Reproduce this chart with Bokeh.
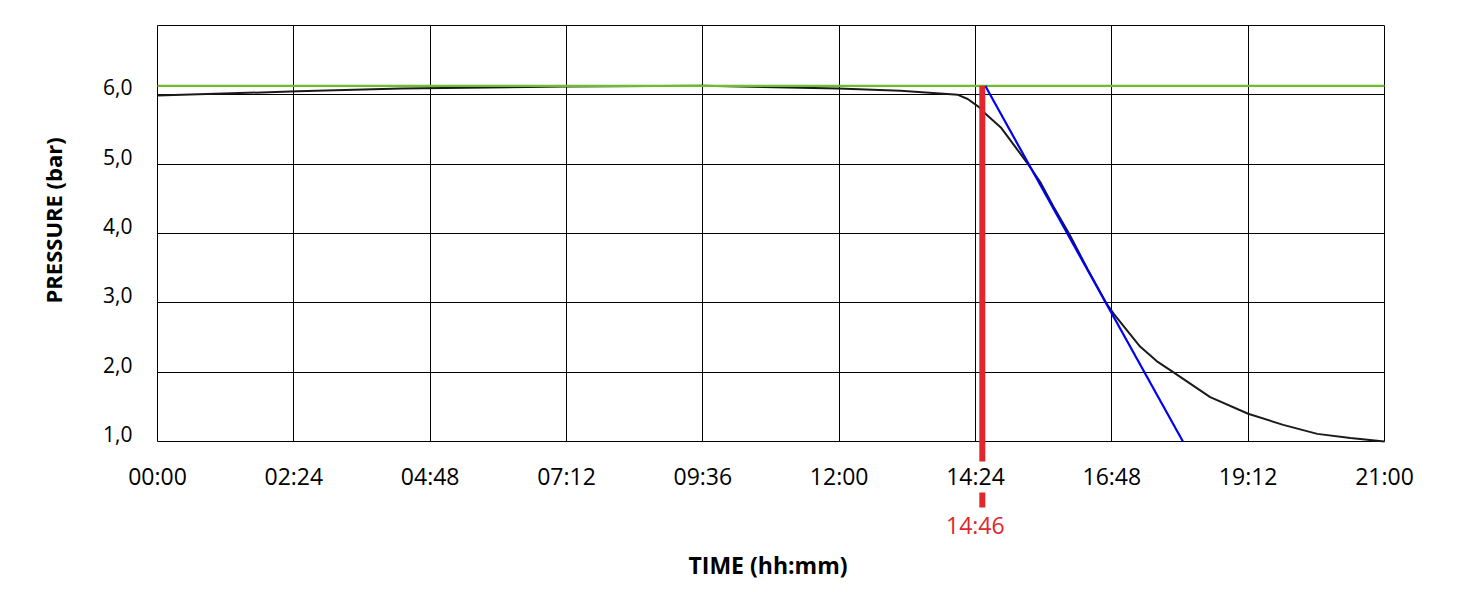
from bokeh.plotting import figure
from bokeh.models import (FixedTicker, Range1d, Label, Title, LinearAxis, Grid)
from bokeh.embed import file_html
from bokeh.resources import INLINE

# ---------------- data (time in minutes from 00:00, pressure in bar) ----------------
time_min = [0, 144, 250, 419, 560, 699, 763, 822, 832, 844, 850, 866, 893, 907,
            920, 936, 955, 974, 982, 1009, 1026, 1043, 1081, 1120, 1156, 1191, 1225, 1260]
pressure = [5.99, 6.05, 6.09, 6.12, 6.13, 6.09, 6.06, 6.00, 5.94, 5.82, 5.73, 5.53,
            5.02, 4.73, 4.39, 4.00, 3.49, 3.00, 2.84, 2.37, 2.16, 2.00, 1.64, 1.40,
            1.24, 1.11, 1.05, 1.00]

reference_level = 6.13                  # green horizontal line (bar)
tangent_time = [850, 1053]              # blue tangent line, minutes
tangent_pressure = [6.13, 1.00]

marker_time = 847                       # red vertical marker position (minutes)
marker_label = "14:46"

# the source chart places its 10 labelled grid lines evenly over 00:00 - 21:00
x_ticks = [0, 140, 280, 420, 560, 700, 840, 980, 1120, 1260]
x_tick_labels = ["00:00", "02:24", "04:48", "07:12", "09:36", "12:00",
                 "14:24", "16:48", "19:12", "21:00"]
y_ticks = [1, 2, 3, 4, 5, 6]
y_tick_labels = ["1,0", "2,0", "3,0", "4,0", "5,0", "6,0"]
y_grid = [1, 2, 3, 4, 5, 6, 7]

x_title = "TIME (hh:mm)"
y_title = "PRESSURE (bar)"

# ---------------- layout (pixels) ----------------
FONT = "Open Sans"
RED = "#e1262d"
W, H = 1440, 592
box_left, box_right, box_top, box_bottom = 157, 1384, 25, 441   # grid box on screen
frame_left, frame_right, frame_top, frame_bottom = 90, 1420, 24, 545

X0, X1 = x_ticks[0], x_ticks[-1]
Y0, Y1 = y_grid[0], y_grid[-1]
ppx = (box_right - box_left) / (X1 - X0)        # px per minute
ppy = (box_bottom - box_top) / (Y1 - Y0)        # px per bar

x_lo = X0 - (box_left - frame_left) / ppx
x_hi = X1 + (frame_right - box_right) / ppx
y_hi = Y1 + (box_top - frame_top) / ppy
y_lo = Y0 - (frame_bottom - box_bottom) / ppy


def below(pixels):
    """data y for a point `pixels` below the bottom of the grid box"""
    return Y0 - pixels / ppy


p = figure(width=W, height=H, output_backend="svg", toolbar_location=None,
           x_range=Range1d(x_lo, x_hi), y_range=Range1d(y_lo, y_hi),
           y_axis_location=None,
           min_border_left=frame_left, min_border_right=W - frame_right,
           min_border_top=frame_top, min_border_bottom=H - frame_bottom)
p.title = None
p.background_fill_color = "white"
p.border_fill_color = "white"
p.outline_line_color = None

# ---- grid box ----
has_cross = "cross_bounds" in Grid.properties()
if has_cross:
    p.xgrid.ticker = FixedTicker(ticks=x_ticks)
    p.ygrid.ticker = FixedTicker(ticks=y_grid)
    p.xgrid.cross_bounds = (Y0, Y1)
    p.ygrid.cross_bounds = (X0, X1)
    for g in (p.xgrid, p.ygrid):
        g.grid_line_color = "black"
        g.grid_line_width = 1
        g.grid_line_alpha = 1.0
else:
    p.xgrid.visible = False
    p.ygrid.visible = False
    p.segment(x0=x_ticks, y0=[Y0] * len(x_ticks), x1=x_ticks, y1=[Y1] * len(x_ticks),
              line_color="black", line_width=1)
    p.segment(x0=[X0] * len(y_grid), y0=y_grid, x1=[X1] * len(y_grid), y1=y_grid,
              line_color="black", line_width=1)

# ---- x axis: drawn along pressure 1,0 ----
xa = p.xaxis[0]
xa.fixed_location = Y0
xa.ticker = FixedTicker(ticks=x_ticks)
xa.major_label_overrides = {t: s for t, s in zip(x_ticks, x_tick_labels)}
xa.axis_line_color = None
xa.major_tick_line_color = None
xa.minor_tick_line_color = None
xa.major_tick_out = 0
xa.major_tick_in = 0
xa.major_label_standoff = 18
xa.major_label_text_font = FONT
xa.major_label_text_font_size = "23px"
xa.major_label_text_color = "black"

# ---- y axis: drawn along 00:00, labels sit just above their grid line ----
lift = 7.5 / ppy
p.extra_y_ranges = {"ylab": Range1d(y_lo - lift, y_hi - lift)}
ya = LinearAxis(y_range_name="ylab", fixed_location=X0, ticker=FixedTicker(ticks=y_ticks),
                major_label_overrides={t: s for t, s in zip(y_ticks, y_tick_labels)},
                axis_line_color=None, major_tick_line_color=None,
                minor_tick_line_color=None, major_tick_out=0, major_tick_in=0,
                major_label_standoff=25,
                major_label_text_font=FONT, major_label_text_font_size="21px",
                major_label_text_color="black")
p.add_layout(ya, "left")

# ---- axis titles ----
p.add_layout(Title(text=y_title, align="left", offset=frame_bottom - 303, standoff=46,
                   text_font=FONT, text_font_size="22px", text_font_style="bold",
                   text_color="black"), "left")
p.add_layout(Title(text=x_title, align="left", offset=688 - frame_left, standoff=2,
                   text_font=FONT, text_font_size="23px", text_font_style="bold",
                   text_color="black"), "below")

# ---- data lines ----
p.line(time_min, pressure, line_color="#1a1a1a", line_width=2)
p.line([X0, X1], [reference_level, reference_level], line_color="#6ebe28", line_width=2.3)
p.line(tangent_time, tangent_pressure, line_color="#0000f5", line_width=2.2)

# ---- red marker ----
p.segment(x0=[marker_time, marker_time], y0=[reference_level, below(51)],
          x1=[marker_time, marker_time], y1=[below(20), below(66)],
          line_color=RED, line_width=6)
p.add_layout(Label(x=marker_time, y=Y0, y_offset=-83, x_offset=-7, text=marker_label,
                   text_align="center", text_baseline="middle",
                   text_font=FONT, text_font_size="23px", text_color=RED))

open("out.html", "w").write(file_html(p, INLINE))
